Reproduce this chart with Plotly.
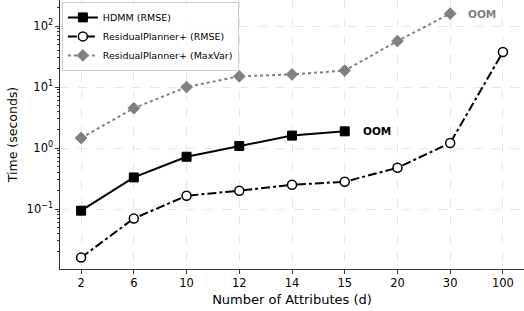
import math
import plotly.graph_objects as go

categories = ["2", "6", "10", "12", "14", "15", "20", "30", "100"]
hdmm_rmse = [0.094, 0.33, 0.72, 1.08, 1.6, 1.88, None, None, None]
rp_rmse = [0.016, 0.070, 0.165, 0.20, 0.25, 0.28, 0.475, 1.21, 37.5]
rp_maxvar = [1.46, 4.5, 10.0, 15.0, 16.1, 18.6, 56.8, 160.0, None]
y_tickvals = [0.1, 1, 10, 100]
y_ticktext = ["10<sup>−1</sup>", "10<sup>0</sup>", "10<sup>1</sup>", "10<sup>2</sup>"]
oom_label = "OOM"

FONT = "DejaVu Sans"
GRAY = "#808080"

fig = go.Figure()
fig.add_trace(go.Scatter(
    x=categories, y=hdmm_rmse, name="HDMM (RMSE)", mode="lines+markers",
    line=dict(color="black", width=2, dash="solid"),
    marker=dict(symbol="square", size=9, color="black", line=dict(color="black", width=1)),
))
fig.add_trace(go.Scatter(
    x=categories, y=rp_rmse, name="ResidualPlanner+ (RMSE)", mode="lines+markers",
    line=dict(color="black", width=2, dash="dashdot"),
    marker=dict(symbol="circle", size=9, color="white", line=dict(color="black", width=1.5)),
))
fig.add_trace(go.Scatter(
    x=categories, y=rp_maxvar, name="ResidualPlanner+ (MaxVar)", mode="lines+markers",
    line=dict(color=GRAY, width=2, dash="dot"),
    marker=dict(symbol="diamond", size=9, color=GRAY, line=dict(color=GRAY, width=1)),
))

# OOM annotations next to the last point of the truncated series (category index)
hdmm_last = max(i for i, v in enumerate(hdmm_rmse) if v is not None)
maxvar_last = max(i for i, v in enumerate(rp_maxvar) if v is not None)
fig.add_annotation(x=hdmm_last, y=math.log10(hdmm_rmse[hdmm_last]),
                   text="<b>" + oom_label + "</b>", showarrow=False, xanchor="left", xshift=16,
                   font=dict(family=FONT, size=10.5, color="black"))
fig.add_annotation(x=maxvar_last, y=math.log10(rp_maxvar[maxvar_last]),
                   text="<b>" + oom_label + "</b>", showarrow=False, xanchor="left", xshift=16,
                   font=dict(family=FONT, size=10.5, color=GRAY))

fig.update_layout(
    width=524, height=311,
    margin=dict(l=60, r=0, t=0, b=42, autoexpand=False),
    plot_bgcolor="white", paper_bgcolor="white",
    font=dict(family=FONT, size=11.5, color="black"),
    showlegend=True,
    legend=dict(x=0.004, y=0.993, xanchor="left", yanchor="top",
                bgcolor="rgba(255,255,255,0.8)", bordercolor="#cccccc", borderwidth=1,
                font=dict(family=FONT, size=9.5), itemwidth=30, tracegroupgap=0),
)
fig.update_xaxes(
    type="category", range=[-0.4, 8.4], automargin=False,
    title=dict(text="Number of Attributes (d)", standoff=5, font=dict(size=13)),
    showline=True, linecolor="#333333", linewidth=1.2, mirror=True,
    ticks="outside", ticklen=3.5, tickcolor="#333333",
    showgrid=True, gridcolor="#e6e6e6", griddash="dash", gridwidth=0.8,
    zeroline=False,
)
fig.update_yaxes(
    type="log", range=[-1.983, 2.427], automargin=False,
    tickvals=y_tickvals, ticktext=y_ticktext,
    title=dict(text="Time (seconds)", standoff=6, font=dict(size=12.5)),
    showline=True, linecolor="#333333", linewidth=1.2, mirror=True,
    ticks="outside", ticklen=3.5, tickcolor="#333333",
    showgrid=True, gridcolor="#e6e6e6", griddash="dash", gridwidth=0.8,
    minor=dict(ticks="outside", ticklen=2, tickcolor="#333333", dtick="D1", showgrid=False),
    zeroline=False,
)

fig.write_html("out.html", config={"displayModeBar": False},
               post_script="document.body.style.margin='0';")
